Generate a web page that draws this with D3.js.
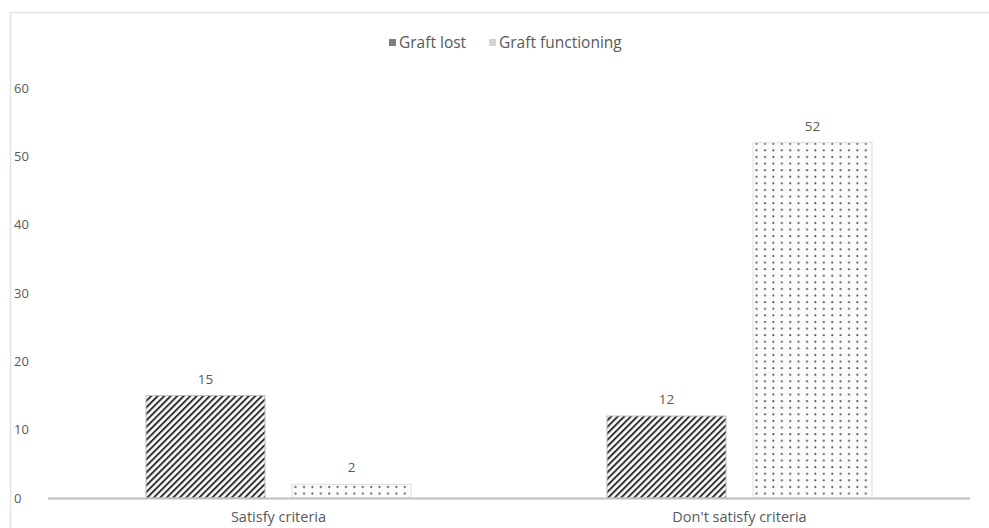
<!DOCTYPE html>
<html>
<head>
<meta charset="utf-8">
<script src="https://cdn.jsdelivr.net/npm/d3@7"></script>
<style>
  body { margin: 0; background: #fff; }
  text { font-family: "Open Sans", "Noto Sans", sans-serif; fill: #595959; }
</style>
</head>
<body>
<script>
// chart data
var categories = ["Satisfy criteria", "Don't satisfy criteria"];
var seriesNames = ["Graft lost", "Graft functioning"];
var graftLost = [15, 12];
var graftFunctioning = [2, 52];
var yTicks = [0, 10, 20, 30, 40, 50, 60];

// set the dimensions and margins of the graph
var W = 989, H = 528;
var margin = {top: 88, right: 19, bottom: 31, left: 48},
    width = W - margin.left - margin.right,
    height = H - margin.top - margin.bottom;

var svg = d3.select("body").append("svg")
    .attr("width", W)
    .attr("height", H);

// patterns for the bars
var defs = svg.append("defs");
var hatch = defs.append("pattern")
    .attr("id", "hatch")
    .attr("patternUnits", "userSpaceOnUse")
    .attr("width", 4.6).attr("height", 4.6)
    .attr("patternTransform", "rotate(45)");
hatch.append("rect").attr("width", 4.6).attr("height", 4.6).attr("fill", "#fff");
hatch.append("rect").attr("width", 2).attr("height", 4.6).attr("fill", "#333");

var dots = defs.append("pattern")
    .attr("id", "dots")
    .attr("patternUnits", "userSpaceOnUse")
    .attr("width", 8.4).attr("height", 6.6);
dots.append("rect").attr("width", 8.4).attr("height", 6.6).attr("fill", "#fbfbfb");
dots.append("circle").attr("cx", 4).attr("cy", 3).attr("r", 1).attr("fill", "#4a4a4a");

// outer border (partly visible)
svg.append("rect")
    .attr("x", 10.5).attr("y", 12.5)
    .attr("width", W + 20).attr("height", H + 20)
    .attr("fill", "none")
    .attr("stroke", "#e3e3e3")
    .attr("stroke-width", 1.5);

var g = svg.append("g")
    .attr("transform", "translate(" + margin.left + "," + margin.top + ")");

// set the ranges
var x0 = d3.scaleBand().domain(categories).range([0, width]).paddingInner(0).paddingOuter(0);
var x1 = d3.scaleBand().domain(seriesNames).range([98, x0.bandwidth() - 98]).paddingInner(0.185);
var y = d3.scaleLinear().domain([0, 60]).range([height + 1, 0]);

// y tick labels
g.selectAll(".ylab")
    .data(yTicks)
    .enter().append("text")
    .attr("x", -34)
    .attr("y", function(d) { return y(d); })
    .attr("dy", "0.35em")
    .style("font-size", "13px")
    .text(function(d) { return d; });

// bars
var rows = categories.map(function(c, i) {
    return [
        {cat: c, s: seriesNames[0], v: graftLost[i]},
        {cat: c, s: seriesNames[1], v: graftFunctioning[i]}
    ];
});

var groups = g.selectAll(".grp")
    .data(rows)
    .enter().append("g")
    .attr("transform", function(d, i) { return "translate(" + x0(categories[i]) + ",0)"; });

groups.selectAll("rect")
    .data(function(d) { return d; })
    .enter().append("rect")
    .attr("x", function(d) { return x1(d.s); })
    .attr("y", function(d) { return y(d.v); })
    .attr("width", x1.bandwidth())
    .attr("height", function(d) { return y(0) - y(d.v); })
    .attr("fill", function(d) { return d.s === seriesNames[0] ? "url(#hatch)" : "url(#dots)"; })
    .attr("stroke", function(d) { return d.s === seriesNames[0] ? "#bdbdbd" : "#dddddd"; })
    .attr("stroke-width", 1);

groups.selectAll(".val")
    .data(function(d) { return d; })
    .enter().append("text")
    .attr("x", function(d) { return x1(d.s) + x1.bandwidth() / 2; })
    .attr("y", function(d) { return y(d.v) - 12; })
    .attr("text-anchor", "middle")
    .style("font-size", "13.5px")
    .text(function(d) { return d.v; });

// baseline
g.append("line")
    .attr("x1", 0).attr("x2", width)
    .attr("y1", y(0) + 0.5).attr("y2", y(0) + 0.5)
    .attr("stroke", "#bfbfbf")
    .attr("stroke-width", 2);

// category labels
g.selectAll(".cat")
    .data(categories)
    .enter().append("text")
    .attr("x", function(d) { return x0(d) + x0.bandwidth() / 2; })
    .attr("y", y(0) + 24)
    .attr("text-anchor", "middle")
    .style("font-size", "14.5px")
    .text(function(d) { return d; });

// legend
var legend = svg.append("g").attr("transform", "translate(0,43)");
var legendItems = [
    {name: seriesNames[0], color: "#7f7f7f", x: 389},
    {name: seriesNames[1], color: "#d3d3d3", x: 489}
];
legendItems.forEach(function(it) {
    legend.append("rect")
        .attr("x", it.x).attr("y", -4)
        .attr("width", 7).attr("height", 7)
        .attr("fill", it.color);
    legend.append("text")
        .attr("x", it.x + 10)
        .attr("y", 0)
        .attr("dy", "0.35em")
        .style("font-size", "15.5px")
        .text(it.name);
});
</script>
</body>
</html>
